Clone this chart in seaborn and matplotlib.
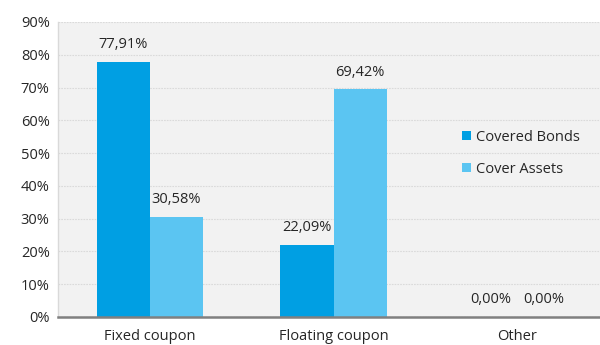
import matplotlib
matplotlib.use("Agg")
import matplotlib.pyplot as plt
import seaborn as sns
import pandas as pd
from matplotlib.ticker import FuncFormatter

categories = ["Fixed coupon", "Floating coupon", "Other"]
covered_bonds = [77.91, 22.09, 0.00]
cover_assets = [30.58, 69.42, 0.00]
series_names = ["Covered Bonds", "Cover Assets"]
colors = ["#009FE3", "#5BC5F2"]

df = pd.DataFrame({
    "category": categories * 2,
    "value": covered_bonds + cover_assets,
    "series": [series_names[0]] * 3 + [series_names[1]] * 3,
})

sns.set_theme(style="white")
plt.rcParams["font.family"] = ["Open Sans", "DejaVu Sans"]

fig = plt.figure(figsize=(6, 3.45), dpi=100)
ax = fig.add_axes([58 / 600, 28 / 345, 1 - 58 / 600, (317 - 22) / 345])
ax.set_facecolor("#F2F2F2")

sns.barplot(data=df, x="category", y="value", hue="series", palette=colors,
            width=0.58, saturation=1, linewidth=0, ax=ax, legend=True)

ax.set_ylim(0, 90)
ax.set_xlim(-0.5, 2.45)
ax.set_yticks(range(0, 91, 10))
ax.yaxis.set_major_formatter(FuncFormatter(lambda v, p: f"{int(v)}%"))
ax.grid(axis="y", color="#DADADA", linestyle=(0, (1.5, 1)), linewidth=0.8)
ax.set_axisbelow(True)
ax.set_xlabel("")
ax.set_ylabel("")
ax.tick_params(axis="both", length=0, labelsize=10.5, colors="#262626")
ax.tick_params(axis="x", pad=9)
ax.tick_params(axis="y", pad=6)

for s in ["top", "right"]:
    ax.spines[s].set_visible(False)
ax.spines["left"].set_color("#D9D9D9")
ax.spines["left"].set_linewidth(1)
ax.spines["bottom"].set_color("#808080")
ax.spines["bottom"].set_linewidth(1.8)

for cont in ax.containers:
    labels = [f"{v:.2f}%".replace(".", ",") for v in cont.datavalues]
    ax.bar_label(cont, labels=labels, padding=7, fontsize=10.5, color="#262626")

leg = ax.legend(loc="center left", bbox_to_anchor=(0.722, 0.555), frameon=False,
                fontsize=10.5, handlelength=0.6, handleheight=0.6,
                handletextpad=0.3, labelspacing=1.15)
for t in leg.get_texts():
    t.set_color("#262626")

fig.savefig("out.png", dpi=100, facecolor="white")
